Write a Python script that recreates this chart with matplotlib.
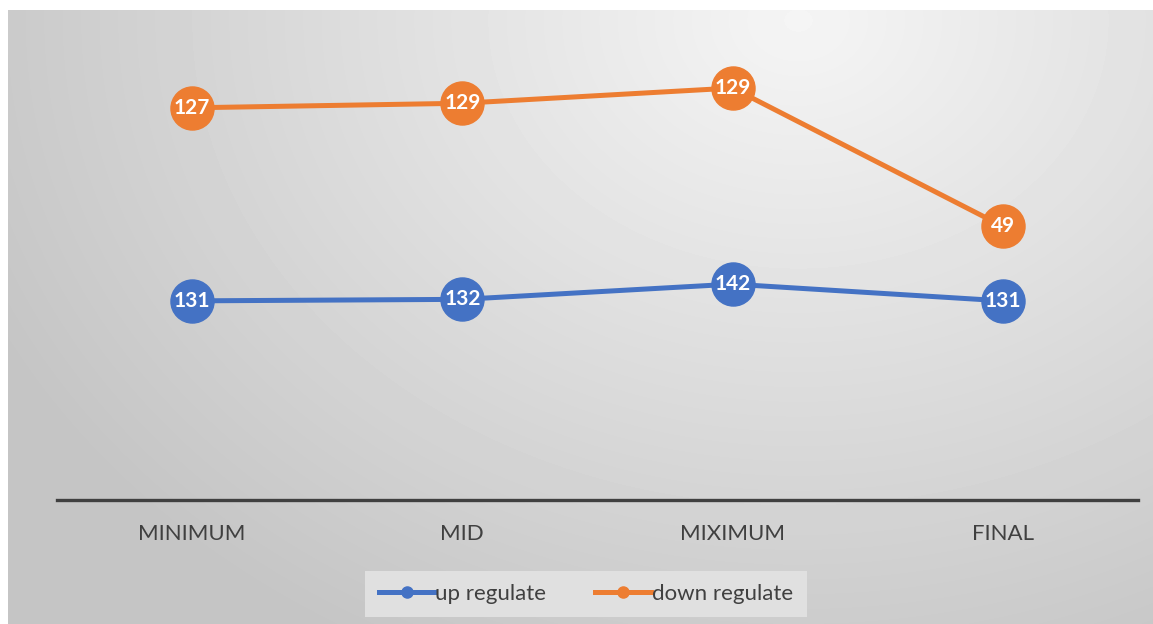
import numpy as np
import matplotlib.pyplot as plt
from matplotlib.lines import Line2D

plt.rcParams['font.family'] = ['Lato', 'DejaVu Sans']

stages = ['MINIMUM', 'MID', 'MIXIMUM', 'FINAL']
up_regulate = [131, 132, 142, 131]
down_regulate = [127, 129, 129, 49]

blue = '#4472c4'
orange = '#ed7d31'
text_grey = '#404040'

W, H = 1153, 624
fig = plt.figure(figsize=(W / 100, H / 100), dpi=100)
fig.patch.set_facecolor('white')

# radial grey backdrop
bg = fig.add_axes([8 / W, 0, 1 - 8 / W, 1 - 10 / H])
bg.set_axis_off()
yy, xx = np.mgrid[0:614, 0:1145]
r = np.hypot(xx - 790, (yy - 10) * 1.25)
t = np.clip(r / 900, 0, 1)
shade = 0.96 + (0.77 - 0.96) * t
bg.imshow(shade, cmap='gray', vmin=0, vmax=1, aspect='auto',
          extent=[0, 1, 0, 1], origin='upper', interpolation='bilinear')
bg.set_zorder(0)

ax = fig.add_axes([57 / W, 1 - 500 / H, 1081 / W, 453 / H])
ax.set_zorder(1)
ax.patch.set_alpha(0)

x = np.arange(len(stages))
up = np.array(up_regulate)
stacked = up + np.array(down_regulate)

ax.plot(x, up, color=blue, lw=3.6, marker='o', ms=31, mec=blue,
        solid_capstyle='round', zorder=3)
ax.plot(x, stacked, color=orange, lw=3.6, marker='o', ms=31, mec=orange,
        solid_capstyle='round', zorder=3)

for xi, yi, v in zip(x, up, up_regulate):
    ax.text(xi, yi, str(v), color='white', fontsize=15, fontweight='bold',
            ha='center', va='center', zorder=4)
for xi, yi, v in zip(x, stacked, down_regulate):
    ax.text(xi, yi, str(v), color='white', fontsize=15, fontweight='bold',
            ha='center', va='center', zorder=4)

ax.set_xlim(-0.5, len(stages) - 0.5)
ax.set_ylim(0, 298)
ax.set_yticks([])
ax.set_xticks(x)
ax.set_xticklabels(stages, fontsize=16, color=text_grey)
ax.tick_params(axis='x', length=0, pad=17)
for side in ['top', 'right', 'left']:
    ax.spines[side].set_visible(False)
ax.spines['bottom'].set_color(text_grey)
ax.spines['bottom'].set_linewidth(2.4)

handles = [
    Line2D([], [], color=blue, lw=3.6, marker='o', ms=8, mec=blue),
    Line2D([], [], color=orange, lw=3.6, marker='o', ms=8, mec=orange),
]
leg = fig.legend(handles, ['up regulate', 'down regulate'], ncol=2,
                 loc='center', bbox_to_anchor=(586 / W, 1 - 594 / H),
                 frameon=True, fancybox=False, fontsize=16,
                 handlelength=2.5, handletextpad=0.05, columnspacing=2.2,
                 borderpad=0.6, borderaxespad=0, labelcolor=text_grey)
leg.get_frame().set_facecolor('#e0e0e0')
leg.get_frame().set_edgecolor('none')
leg.get_frame().set_alpha(1)

fig.savefig('out.png', dpi=100)
